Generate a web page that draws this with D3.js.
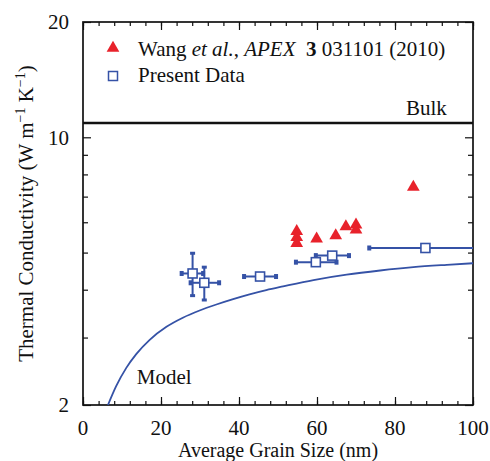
<!DOCTYPE html>
<html>
<head>
<meta charset="utf-8">
<script src="https://cdn.jsdelivr.net/npm/d3@7/dist/d3.min.js"></script>
<style>
  body { margin: 0; background: #fff; }
  .axis path { stroke: none; }
  .axis line { stroke: #111; stroke-width: 1.2; }
</style>
</head>
<body>
<div id="chart"></div>
<script>
// Wang et al. (red triangles)
const wangX = [54.8, 54.8, 54.8, 59.9, 64.8, 67.4, 70.0, 70.0, 84.7];
const wangY = [5.68, 5.48, 5.29, 5.43, 5.54, 5.85, 5.91, 5.73, 7.41];

// present data (open squares) with error bars
const presentX   = [28.1, 31.1, 45.4, 59.7, 63.9, 87.8];
const presentY   = [4.41, 4.17, 4.33, 4.72, 4.91, 5.14];
const presentXLo = [25.3, 27.6, 41.3, 54.6, 59.7, 73.4];
const presentXHi = [30.8, 34.9, 49.5, 65.0, 68.2, 102.0];
const presentYLo = [3.86, 3.76, null, null, null, null];
const presentYHi = [4.98, 4.58, null, null, null, null];

// model curve
const modelX = [6.4, 8.5, 11.1, 13.7, 17.1, 21.4, 25.6, 29.9, 34.2, 38.5, 42.7, 47.0, 51.3, 59.1, 67.6, 76.2, 84.7, 93.3, 100];
const modelY = [2.0, 2.24, 2.50, 2.72, 2.96, 3.20, 3.38, 3.53, 3.66, 3.78, 3.89, 3.99, 4.08, 4.24, 4.38, 4.49, 4.58, 4.645, 4.69];

const bulkValue = 10.9;

const xMajor = [0, 20, 40, 60, 80, 100];
const xMinor = d3.range(0, 101, 4);
const yMajor = [2, 10, 20];
const yMinor = [3, 4, 5, 6, 7, 8, 9];

const FONT = '"Liberation Serif", "Times New Roman", Times, serif';

const margin = {top: 22, right: 17, bottom: 56, left: 83},
  width = 490 - margin.left - margin.right,
  height = 461 - margin.top - margin.bottom;

const blue = '#3552a6', red = '#e8222b';

const x = d3.scaleLinear().domain([0, 100]).range([0, width]);
const y = d3.scaleLog().domain([2, 20]).range([height, 0]);

const svg = d3.select('#chart').append('svg')
    .attr('width', 490)
    .attr('height', 461)
    .style('font-family', FONT)
  .append('g')
    .attr('transform', `translate(${margin.left},${margin.top})`);

function label(sel) {
  return sel.attr('font-family', FONT).style('font-family', FONT)
    .style('font-size', '21px').attr('fill', '#111');
}

svg.append('clipPath').attr('id', 'clip')
  .append('rect').attr('width', width).attr('height', height);

// ticks (inward) on all four sides
function addAxis(axisFn, vals, size, transform) {
  svg.append('g').attr('class', 'axis')
    .attr('transform', transform)
    .call(axisFn.tickValues(vals).tickSize(size).tickFormat(''));
}
addAxis(d3.axisBottom(x), xMinor, -4, `translate(0,${height})`);
addAxis(d3.axisTop(x), xMinor, -4, 'translate(0,0)');
addAxis(d3.axisBottom(x), xMajor, -8, `translate(0,${height})`);
addAxis(d3.axisTop(x), xMajor, -8, 'translate(0,0)');
addAxis(d3.axisLeft(y), yMinor, -5, 'translate(0,0)');
addAxis(d3.axisRight(y), yMinor, -5, `translate(${width},0)`);
addAxis(d3.axisLeft(y), yMajor, -8, 'translate(0,0)');
addAxis(d3.axisRight(y), yMajor, -8, `translate(${width},0)`);

// tick labels
svg.selectAll('.xlab').data(xMajor).enter().append('text')
    .call(label)
    .attr('x', d => x(d)).attr('y', height + 30)
    .attr('text-anchor', 'middle')
    .text(d => d);
svg.selectAll('.ylab').data(yMajor).enter().append('text')
    .call(label)
    .attr('x', -14).attr('y', d => y(d)).attr('dy', '0.35em')
    .attr('text-anchor', 'end')
    .text(d => d);

// frame
svg.append('rect').attr('width', width).attr('height', height)
  .attr('fill', 'none').attr('stroke', '#111').attr('stroke-width', 1.7);

// axis titles
svg.append('text').call(label)
  .style('font-size', '20px')
  .attr('x', width / 2).attr('y', height + 52)
  .attr('text-anchor', 'middle')
  .text('Average Grain Size (nm)');

const yt = svg.append('text').call(label)
  .attr('transform', `translate(-50,${height / 2}) rotate(-90)`)
  .attr('text-anchor', 'middle');
yt.append('tspan').text('Thermal Conductivity (W m');
yt.append('tspan').attr('dy', -8).style('font-size', '14px').text('\u22121');
yt.append('tspan').attr('dy', 8).text(' K');
yt.append('tspan').attr('dy', -8).style('font-size', '14px').text('\u22121');
yt.append('tspan').attr('dy', 8).text(')');

const plot = svg.append('g').attr('clip-path', 'url(#clip)');

// bulk line
plot.append('line')
  .attr('x1', 0).attr('x2', width)
  .attr('y1', y(bulkValue)).attr('y2', y(bulkValue))
  .attr('stroke', '#111').attr('stroke-width', 2.4);
svg.append('text').call(label)
  .attr('x', x(93.3)).attr('y', y(bulkValue) - 8)
  .attr('text-anchor', 'end')
  .text('Bulk');

// model curve
const model = modelX.map((d, i) => [d, modelY[i]]);
plot.append('path').datum(model)
  .attr('fill', 'none').attr('stroke', blue).attr('stroke-width', 1.8)
  .attr('d', d3.line().x(d => x(d[0])).y(d => y(d[1])).curve(d3.curveMonotoneX));
svg.append('text').call(label)
  .attr('x', x(13.8)).attr('y', y(2.27))
  .text('Model');

// present data error bars
const present = presentX.map((d, i) => ({
  x: d, y: presentY[i], xlo: presentXLo[i], xhi: presentXHi[i], ylo: presentYLo[i], yhi: presentYHi[i]
}));
const eb = plot.append('g').attr('stroke', blue).attr('fill', blue);
eb.selectAll('.hbar').data(present).enter().append('line')
  .attr('x1', d => x(d.xlo)).attr('x2', d => x(d.xhi))
  .attr('y1', d => y(d.y)).attr('y2', d => y(d.y))
  .attr('stroke-width', 2);
eb.selectAll('.hcapl').data(present).enter().append('rect')
  .attr('x', d => x(d.xlo) - 2).attr('y', d => y(d.y) - 2.5)
  .attr('width', 4).attr('height', 5).attr('stroke', 'none');
eb.selectAll('.hcapr').data(present).enter().append('rect')
  .attr('x', d => x(d.xhi) - 2).attr('y', d => y(d.y) - 2.5)
  .attr('width', 4).attr('height', 5).attr('stroke', 'none');
const vb = present.filter(d => d.ylo !== null);
eb.selectAll('.vbar').data(vb).enter().append('line')
  .attr('x1', d => x(d.x)).attr('x2', d => x(d.x))
  .attr('y1', d => y(d.ylo)).attr('y2', d => y(d.yhi))
  .attr('stroke-width', 2);
eb.selectAll('.vcapb').data(vb).enter().append('rect')
  .attr('x', d => x(d.x) - 2.5).attr('y', d => y(d.ylo) - 1.5)
  .attr('width', 5).attr('height', 3).attr('stroke', 'none');
eb.selectAll('.vcapt').data(vb).enter().append('rect')
  .attr('x', d => x(d.x) - 2.5).attr('y', d => y(d.yhi) - 1.5)
  .attr('width', 5).attr('height', 3).attr('stroke', 'none');

// squares
plot.selectAll('.sq').data(present).enter().append('rect')
  .attr('x', d => x(d.x) - 4.5).attr('y', d => y(d.y) - 4.5)
  .attr('width', 9).attr('height', 9)
  .attr('fill', '#fff').attr('stroke', blue).attr('stroke-width', 1.6);

// triangles
const tri = d3.symbol().type(d3.symbolTriangle).size(70);
plot.selectAll('.tri').data(wangX.map((d, i) => [d, wangY[i]])).enter().append('path')
  .attr('transform', d => `translate(${x(d[0])},${y(d[1])})`)
  .attr('d', tri).attr('fill', red);

// legend
const lg = svg.append('g');
lg.append('path').attr('transform', 'translate(30,26)').attr('d', tri).attr('fill', red);
lg.append('rect').attr('x', 25.5).attr('y', 49.5).attr('width', 9).attr('height', 9)
  .attr('fill', '#fff').attr('stroke', blue).attr('stroke-width', 1.5);
const l1 = lg.append('text').call(label).attr('x', 55).attr('y', 34);
l1.append('tspan').text('Wang ');
l1.append('tspan').style('font-style', 'italic').text('et al.');
l1.append('tspan').text(', ');
l1.append('tspan').style('font-style', 'italic').text('APEX');
l1.append('tspan').style('font-weight', 'bold').text('\u00a0 3');
l1.append('tspan').text(' 031101 (2010)');
lg.append('text').call(label).attr('x', 55).attr('y', 60).text('Present Data');
</script>
</body>
</html>
